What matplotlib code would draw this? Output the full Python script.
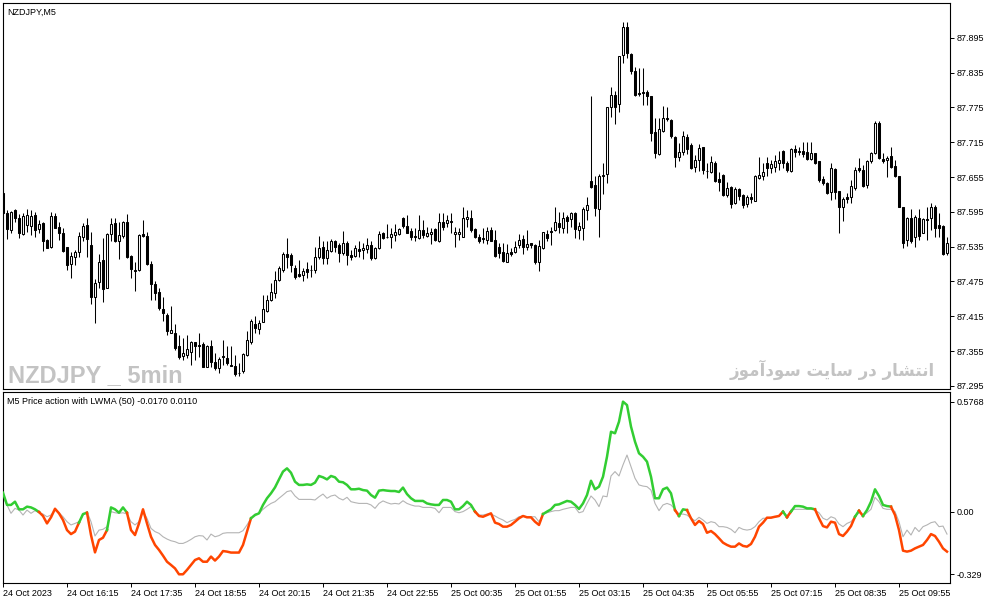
import matplotlib
matplotlib.use("Agg")
import matplotlib.pyplot as plt

# Velas M5 do NZDJPY
opens = [
    87.628, 87.593, 87.563, 87.598, 87.584, 87.556, 87.572, 87.571, 87.590, 87.565,
    87.576, 87.547, 87.535, 87.588, 87.569, 87.559, 87.534, 87.505, 87.517, 87.525,
    87.551, 87.572, 87.538, 87.449, 87.474, 87.512, 87.464, 87.557, 87.575, 87.545,
    87.553, 87.578, 87.519, 87.493, 87.494, 87.557, 87.554, 87.505, 87.471, 87.457,
    87.428, 87.417, 87.387, 87.387, 87.363, 87.347, 87.348, 87.354, 87.370, 87.365,
    87.367, 87.328, 87.364, 87.336, 87.326, 87.347, 87.343, 87.331, 87.329, 87.318,
    87.320, 87.348, 87.371, 87.402, 87.393, 87.406, 87.425, 87.443, 87.456, 87.478,
    87.495, 87.522, 87.521, 87.498, 87.488, 87.486, 87.497, 87.495, 87.494, 87.517,
    87.534, 87.516, 87.528, 87.544, 87.538, 87.524, 87.541, 87.521, 87.519, 87.531,
    87.529, 87.531, 87.538, 87.515, 87.532, 87.559, 87.552, 87.551, 87.555, 87.556,
    87.584, 87.571, 87.562, 87.553, 87.550, 87.564, 87.554, 87.556, 87.566, 87.544,
    87.577, 87.575, 87.578, 87.556, 87.557, 87.552, 87.582, 87.584, 87.566, 87.552,
    87.550, 87.547, 87.564, 87.547, 87.535, 87.525, 87.509, 87.525, 87.526, 87.538,
    87.548, 87.534, 87.541, 87.538, 87.508, 87.532, 87.557, 87.562, 87.564, 87.575,
    87.568, 87.586, 87.583, 87.593, 87.564, 87.568, 87.598, 87.648, 87.641, 87.600,
    87.656, 87.660, 87.775, 87.797, 87.781, 87.866, 87.913, 87.867, 87.838, 87.800,
    87.801, 87.801, 87.795, 87.732, 87.695, 87.735, 87.756, 87.753, 87.724, 87.690,
    87.699, 87.724, 87.710, 87.672, 87.684, 87.706, 87.666, 87.664, 87.679, 87.652,
    87.658, 87.624, 87.638, 87.610, 87.634, 87.624, 87.608, 87.621, 87.614, 87.654,
    87.656, 87.680, 87.671, 87.673, 87.679, 87.700, 87.680, 87.666, 87.703, 87.700,
    87.700, 87.699, 87.686, 87.697, 87.682, 87.651, 87.645, 87.630, 87.669, 87.631,
    87.604, 87.620, 87.620, 87.637, 87.670, 87.668, 87.641, 87.682, 87.697, 87.749,
    87.686, 87.684, 87.692, 87.674, 87.656, 87.603, 87.547, 87.584, 87.551, 87.584,
    87.559, 87.582, 87.584, 87.603, 87.572, 87.571, 87.524,
]
highs = [
    87.631, 87.598, 87.597, 87.600, 87.591, 87.593, 87.600, 87.598, 87.595, 87.581,
    87.578, 87.548, 87.594, 87.593, 87.577, 87.567, 87.535, 87.526, 87.529, 87.561,
    87.576, 87.584, 87.561, 87.479, 87.522, 87.550, 87.559, 87.584, 87.584, 87.578,
    87.580, 87.591, 87.521, 87.509, 87.556, 87.581, 87.561, 87.510, 87.475, 87.463,
    87.448, 87.420, 87.433, 87.402, 87.383, 87.377, 87.383, 87.373, 87.371, 87.387,
    87.370, 87.366, 87.375, 87.351, 87.345, 87.375, 87.363, 87.364, 87.348, 87.334,
    87.351, 87.390, 87.410, 87.416, 87.409, 87.452, 87.452, 87.472, 87.493, 87.501,
    87.525, 87.550, 87.524, 87.503, 87.512, 87.498, 87.509, 87.503, 87.535, 87.553,
    87.544, 87.544, 87.548, 87.547, 87.542, 87.562, 87.544, 87.529, 87.538, 87.544,
    87.541, 87.550, 87.544, 87.535, 87.562, 87.561, 87.574, 87.567, 87.574, 87.568,
    87.587, 87.590, 87.568, 87.567, 87.590, 87.581, 87.569, 87.567, 87.567, 87.593,
    87.593, 87.590, 87.593, 87.569, 87.567, 87.604, 87.598, 87.598, 87.567, 87.556,
    87.567, 87.569, 87.569, 87.564, 87.541, 87.541, 87.539, 87.532, 87.544, 87.557,
    87.555, 87.564, 87.541, 87.539, 87.547, 87.561, 87.564, 87.569, 87.604, 87.594,
    87.594, 87.590, 87.594, 87.594, 87.578, 87.604, 87.621, 87.794, 87.656, 87.660,
    87.679, 87.776, 87.811, 87.803, 87.864, 87.922, 87.922, 87.868, 87.845, 87.843,
    87.843, 87.805, 87.795, 87.756, 87.756, 87.777, 87.776, 87.755, 87.725, 87.713,
    87.734, 87.729, 87.714, 87.693, 87.712, 87.707, 87.680, 87.691, 87.683, 87.664,
    87.660, 87.647, 87.640, 87.638, 87.636, 87.625, 87.624, 87.627, 87.659, 87.690,
    87.680, 87.690, 87.684, 87.693, 87.700, 87.702, 87.683, 87.705, 87.710, 87.706,
    87.716, 87.716, 87.716, 87.697, 87.682, 87.656, 87.647, 87.679, 87.670, 87.631,
    87.620, 87.628, 87.650, 87.672, 87.687, 87.676, 87.684, 87.699, 87.752, 87.752,
    87.696, 87.691, 87.707, 87.684, 87.657, 87.604, 87.586, 87.600, 87.590, 87.600,
    87.584, 87.604, 87.611, 87.607, 87.593, 87.572, 87.552,
]
lows = [
    87.578, 87.548, 87.559, 87.577, 87.550, 87.555, 87.561, 87.555, 87.551, 87.558,
    87.528, 87.532, 87.533, 87.567, 87.547, 87.526, 87.495, 87.481, 87.503, 87.518,
    87.544, 87.518, 87.436, 87.403, 87.463, 87.440, 87.463, 87.544, 87.543, 87.514,
    87.550, 87.515, 87.481, 87.459, 87.493, 87.552, 87.503, 87.443, 87.443, 87.426,
    87.407, 87.382, 87.386, 87.357, 87.341, 87.340, 87.343, 87.331, 87.340, 87.345,
    87.327, 87.327, 87.328, 87.322, 87.318, 87.331, 87.331, 87.329, 87.312, 87.312,
    87.318, 87.347, 87.368, 87.387, 87.385, 87.405, 87.423, 87.442, 87.446, 87.476,
    87.492, 87.498, 87.492, 87.479, 87.482, 87.475, 87.481, 87.483, 87.490, 87.513,
    87.506, 87.506, 87.525, 87.526, 87.509, 87.521, 87.503, 87.512, 87.518, 87.518,
    87.514, 87.524, 87.512, 87.514, 87.531, 87.548, 87.550, 87.533, 87.544, 87.555,
    87.568, 87.558, 87.547, 87.545, 87.548, 87.550, 87.551, 87.539, 87.544, 87.543,
    87.564, 87.569, 87.558, 87.535, 87.547, 87.551, 87.569, 87.561, 87.550, 87.541,
    87.541, 87.539, 87.544, 87.518, 87.516, 87.509, 87.508, 87.519, 87.524, 87.532,
    87.522, 87.529, 87.532, 87.506, 87.493, 87.531, 87.544, 87.538, 87.562, 87.558,
    87.558, 87.558, 87.569, 87.550, 87.548, 87.547, 87.581, 87.636, 87.588, 87.552,
    87.625, 87.644, 87.759, 87.746, 87.767, 87.851, 87.860, 87.832, 87.795, 87.794,
    87.779, 87.779, 87.717, 87.688, 87.693, 87.733, 87.752, 87.722, 87.673, 87.683,
    87.693, 87.694, 87.669, 87.664, 87.666, 87.661, 87.654, 87.662, 87.647, 87.631,
    87.622, 87.621, 87.601, 87.608, 87.615, 87.601, 87.604, 87.610, 87.613, 87.652,
    87.650, 87.656, 87.662, 87.664, 87.667, 87.670, 87.664, 87.664, 87.690, 87.693,
    87.690, 87.684, 87.684, 87.678, 87.647, 87.641, 87.626, 87.615, 87.617, 87.559,
    87.580, 87.611, 87.610, 87.633, 87.664, 87.638, 87.637, 87.680, 87.694, 87.686,
    87.680, 87.655, 87.670, 87.655, 87.603, 87.532, 87.536, 87.541, 87.534, 87.547,
    87.558, 87.547, 87.564, 87.552, 87.552, 87.521, 87.521,
]
closes = [
    87.593, 87.565, 87.595, 87.584, 87.558, 87.588, 87.590, 87.588, 87.564, 87.574,
    87.544, 87.533, 87.588, 87.568, 87.558, 87.528, 87.503, 87.519, 87.525, 87.553,
    87.571, 87.548, 87.449, 87.472, 87.508, 87.462, 87.557, 87.574, 87.544, 87.555,
    87.578, 87.517, 87.496, 87.494, 87.555, 87.553, 87.505, 87.471, 87.455, 87.430,
    87.420, 87.390, 87.391, 87.360, 87.345, 87.352, 87.359, 87.370, 87.363, 87.364,
    87.328, 87.364, 87.337, 87.326, 87.341, 87.344, 87.334, 87.330, 87.316, 87.317,
    87.350, 87.374, 87.407, 87.394, 87.403, 87.428, 87.443, 87.457, 87.478, 87.498,
    87.522, 87.518, 87.503, 87.483, 87.485, 87.493, 87.492, 87.494, 87.517, 87.533,
    87.515, 87.529, 87.544, 87.535, 87.524, 87.542, 87.521, 87.518, 87.532, 87.528,
    87.532, 87.538, 87.515, 87.532, 87.556, 87.550, 87.551, 87.556, 87.560, 87.566,
    87.571, 87.559, 87.551, 87.552, 87.564, 87.555, 87.558, 87.560, 87.547, 87.577,
    87.569, 87.581, 87.578, 87.560, 87.560, 87.584, 87.586, 87.564, 87.552, 87.545,
    87.548, 87.562, 87.545, 87.519, 87.524, 87.511, 87.524, 87.522, 87.535, 87.547,
    87.535, 87.539, 87.538, 87.508, 87.536, 87.560, 87.550, 87.560, 87.577, 87.569,
    87.584, 87.580, 87.593, 87.566, 87.571, 87.600, 87.607, 87.638, 87.601, 87.656,
    87.659, 87.775, 87.797, 87.776, 87.863, 87.913, 87.868, 87.838, 87.797, 87.798,
    87.800, 87.795, 87.731, 87.696, 87.737, 87.756, 87.755, 87.726, 87.690, 87.698,
    87.725, 87.703, 87.670, 87.684, 87.705, 87.667, 87.665, 87.681, 87.648, 87.647,
    87.624, 87.637, 87.608, 87.635, 87.623, 87.607, 87.620, 87.618, 87.657, 87.659,
    87.663, 87.671, 87.677, 87.682, 87.684, 87.679, 87.667, 87.703, 87.698, 87.698,
    87.695, 87.686, 87.697, 87.679, 87.650, 87.644, 87.628, 87.670, 87.630, 87.604,
    87.618, 87.617, 87.640, 87.668, 87.667, 87.640, 87.683, 87.696, 87.749, 87.687,
    87.683, 87.688, 87.673, 87.656, 87.604, 87.542, 87.584, 87.545, 87.587, 87.553,
    87.582, 87.581, 87.603, 87.568, 87.567, 87.522, 87.541,
]

# Indicador: linha grossa (verde/laranja) e linha cinza
pa_line = [
    0.099, 0.035, 0.035, 0.052, 0.012, 0.012, 0.026, 0.022, 0.012, -0.002,
    -0.023, -0.062, -0.030, 0.015, -0.009, -0.044, -0.097, -0.118, -0.105, -0.058,
    -0.013, -0.006, -0.123, -0.214, -0.149, -0.137, -0.097, 0.022, 0.012, -0.006,
    0.022, -0.006, -0.097, -0.123, -0.062, 0.012, -0.062, -0.132, -0.175, -0.201,
    -0.231, -0.263, -0.280, -0.298, -0.329, -0.329, -0.306, -0.280, -0.254, -0.245,
    -0.263, -0.263, -0.236, -0.257, -0.236, -0.207, -0.210, -0.215, -0.215, -0.215,
    -0.175, -0.105, -0.035, -0.018, -0.009, 0.035, 0.070, 0.096, 0.127, 0.169,
    0.210, 0.227, 0.204, 0.157, 0.140, 0.140, 0.143, 0.140, 0.152, 0.187,
    0.180, 0.169, 0.187, 0.180, 0.157, 0.154, 0.140, 0.117, 0.117, 0.120,
    0.113, 0.110, 0.087, 0.073, 0.110, 0.113, 0.110, 0.108, 0.108, 0.103,
    0.126, 0.092, 0.070, 0.056, 0.056, 0.056, 0.043, 0.038, 0.035, 0.035,
    0.061, 0.061, 0.052, 0.012, 0.012, 0.029, 0.052, 0.035, 0.000, -0.023,
    -0.027, -0.018, -0.009, -0.058, -0.065, -0.079, -0.079, -0.070, -0.053, -0.035,
    -0.023, -0.030, -0.030, -0.053, -0.070, -0.013, 0.000, 0.012, 0.035, 0.038,
    0.047, 0.056, 0.052, 0.035, 0.014, 0.043, 0.087, 0.162, 0.117, 0.131,
    0.183, 0.288, 0.419, 0.411, 0.472, 0.577, 0.559, 0.446, 0.367, 0.306,
    0.288, 0.262, 0.183, 0.070, 0.070, 0.117, 0.126, 0.096, 0.008, -0.023,
    0.012, 0.008, -0.035, -0.070, -0.049, -0.065, -0.111, -0.102, -0.118, -0.140,
    -0.163, -0.175, -0.184, -0.184, -0.167, -0.180, -0.184, -0.170, -0.132, -0.079,
    -0.058, -0.032, -0.032, -0.027, -0.023, 0.000, -0.030, 0.000, 0.029, 0.029,
    0.026, 0.017, 0.017, 0.012, -0.035, -0.076, -0.083, -0.053, -0.058, -0.118,
    -0.128, -0.105, -0.076, -0.027, 0.005, -0.023, 0.008, 0.052, 0.117, 0.082,
    0.035, 0.029, 0.026, -0.018, -0.097, -0.205, -0.210, -0.205, -0.193, -0.184,
    -0.175, -0.149, -0.118, -0.128, -0.158, -0.193, -0.210,
]
lwma_line = [
    0.078, 0.035, -0.009, 0.017, 0.008, -0.018, 0.008, -0.009, 0.005, -0.006,
    -0.013, -0.027, -0.018, 0.008, -0.006, -0.027, -0.053, -0.070, -0.062, -0.053,
    -0.018, 0.000, -0.053, -0.128, -0.097, -0.093, -0.079, 0.000, -0.006, -0.009,
    -0.006, -0.013, -0.053, -0.070, -0.053, 0.000, -0.035, -0.088, -0.105, -0.114,
    -0.132, -0.144, -0.153, -0.158, -0.167, -0.167, -0.158, -0.146, -0.132, -0.126,
    -0.128, -0.149, -0.118, -0.132, -0.126, -0.114, -0.111, -0.111, -0.111, -0.111,
    -0.100, -0.070, -0.035, -0.013, -0.009, 0.012, 0.029, 0.043, 0.052, 0.070,
    0.087, 0.105, 0.110, 0.082, 0.064, 0.064, 0.064, 0.064, 0.061, 0.078,
    0.092, 0.070, 0.082, 0.087, 0.070, 0.061, 0.075, 0.052, 0.047, 0.043,
    0.043, 0.043, 0.035, 0.017, 0.043, 0.056, 0.047, 0.040, 0.043, 0.040,
    0.057, 0.043, 0.035, 0.029, 0.029, 0.022, 0.022, 0.022, 0.017, -0.006,
    0.022, 0.022, 0.022, 0.000, -0.006, 0.000, 0.012, 0.026, 0.005, -0.018,
    -0.018, -0.013, -0.013, -0.023, -0.035, -0.044, -0.058, -0.048, -0.041, -0.027,
    -0.023, -0.027, -0.027, -0.027, -0.053, -0.013, -0.006, 0.000, 0.005, 0.005,
    0.012, 0.017, 0.022, 0.022, -0.006, 0.000, 0.043, 0.082, 0.061, 0.026,
    0.082, 0.078, 0.187, 0.210, 0.187, 0.245, 0.297, 0.236, 0.175, 0.140,
    0.134, 0.131, 0.113, 0.043, 0.005, 0.035, 0.043, 0.035, 0.012, -0.013,
    -0.013, -0.018, -0.035, -0.048, -0.030, -0.044, -0.062, -0.053, -0.058, -0.079,
    -0.079, -0.083, -0.093, -0.111, -0.083, -0.093, -0.097, -0.093, -0.079, -0.053,
    -0.035, -0.035, -0.030, -0.030, -0.023, 0.000, -0.023, 0.008, 0.012, 0.012,
    0.012, 0.012, 0.012, 0.008, -0.006, -0.035, -0.044, -0.027, -0.035, -0.065,
    -0.079, -0.062, -0.053, -0.027, -0.006, -0.018, -0.006, 0.012, 0.075, 0.052,
    0.017, 0.012, 0.012, 0.000, -0.053, -0.132, -0.097, -0.123, -0.083, -0.105,
    -0.079, -0.070, -0.058, -0.053, -0.079, -0.076, -0.118,
]
# trechos (indice inicial, final) em que a linha grossa fica verde
green_runs = [(0, 9), (19, 21), (26, 31), (62, 118), (135, 168), (169, 171),
              (195, 196), (197, 203), (213, 214), (215, 222)]

price_ticks = [87.295, 87.355, 87.415, 87.475, 87.535, 87.595, 87.655, 87.715, 87.775, 87.835, 87.895]
ind_ticks = [0.5768, 0.0, -0.329]
ind_labels = ["0.5768", "0.00", "-0.329"]
time_bars = [0, 16, 32, 48, 64, 80, 96, 112, 128, 144, 160, 176, 192, 208, 224]
time_labels = ["24 Oct 2023", "24 Oct 16:15", "24 Oct 17:35", "24 Oct 18:55", "24 Oct 20:15",
               "24 Oct 21:35", "24 Oct 22:55", "25 Oct 00:35", "25 Oct 01:55", "25 Oct 03:15",
               "25 Oct 04:35", "25 Oct 05:55", "25 Oct 07:15", "25 Oct 08:35", "25 Oct 09:55"]

GREEN = "#32cd32"
ORANGE = "#ff4500"
GREY = "#b4b4b4"
WM = "#c3c3c3"

plt.rcParams['font.family'] = ['Liberation Sans', 'DejaVu Sans']

W, H = 991, 605
fig = plt.figure(figsize=(W / 100, H / 100), dpi=100)
ax1 = fig.add_axes([3 / W, 1 - 389 / H, 947 / W, 386 / H])
ax2 = fig.add_axes([3 / W, 1 - 583 / H, 947 / W, 191 / H])

n = len(closes)
x = list(range(n))

# Velas: pavio + corpo
ax1.vlines(x, lows, highs, color="black", linewidth=0.75, zorder=2)
bottoms = [min(o, c) for o, c in zip(opens, closes)]
heights = [max(abs(c - o), 0.0004) for o, c in zip(opens, closes)]
faces = ["white" if c >= o else "black" for o, c in zip(opens, closes)]
ax1.bar(x, heights, bottom=bottoms, width=0.5, color=faces, edgecolor="black",
        linewidth=0.75, zorder=3)

ax1.set_xlim(0, 236.75)
ax1.set_ylim(87.2897, 87.955)
ax1.set_xticks([])
ax1.yaxis.tick_right()
ax1.set_yticks(price_ticks)
ax1.set_yticklabels([f"{p:.3f}" for p in price_ticks])

# Indicador
ax2.plot(x, lwma_line, color=GREY, linewidth=0.8, zorder=2)
pos = 0
for a, b in green_runs:
    if a > pos:
        ax2.plot(x[pos:a + 1], pa_line[pos:a + 1], color=ORANGE, linewidth=1.8, zorder=3)
    ax2.plot(x[a:b + 1], pa_line[a:b + 1], color=GREEN, linewidth=1.8, zorder=3)
    pos = b
if pos < n - 1:
    ax2.plot(x[pos:], pa_line[pos:], color=ORANGE, linewidth=1.8, zorder=3)

ax2.set_xlim(0, 236.75)
ax2.set_ylim(-0.3747, 0.6277)
ax2.yaxis.tick_right()
ax2.set_yticks(ind_ticks)
ax2.set_yticklabels(ind_labels)
ax2.set_xticks(time_bars)
ax2.set_xticklabels(time_labels, ha="left")

for ax in (ax1, ax2):
    for s in ax.spines.values():
        s.set_linewidth(0.8)
        s.set_color("black")
    ax.tick_params(axis="both", direction="out", length=3, width=0.7,
                   labelsize=6.5, pad=1.5, colors="black")

# Textos
fig.text(7 / W, 1 - 12 / H, "NZDJPY,M5", fontsize=6.5, va="center")
fig.text(7 / W, 1 - 401 / H, "M5 Price action with LWMA (50) -0.0170 0.0110", fontsize=6.5, va="center")

ax1.text(8 / W, 1 - 382 / H, "NZDJPY _ 5min", transform=fig.transFigure, fontsize=17,
         fontweight="bold", color=WM, va="baseline", ha="left",
         family=["Liberation Sans", "DejaVu Sans"], zorder=1)
# "انتشار در سایت سودآموز" ja em formas de apresentacao e ordem visual
fa_text = ("\ufeaf\ufeee\ufee3\ufe81\ufea9\ufeee\ufeb3 \ufe96\ufbfe\ufe8e\ufeb3 "
           "\ufead\ufea9 \ufead\ufe8e\ufeb8\ufe98\ufee7\ufe8d")
ax1.text(935 / W, 1 - 370 / H, fa_text, transform=fig.transFigure, fontsize=12,
         fontweight="bold", color=WM, va="center", ha="right",
         family=["DejaVu Sans"], zorder=1)

fig.savefig("out.png", dpi=100)
